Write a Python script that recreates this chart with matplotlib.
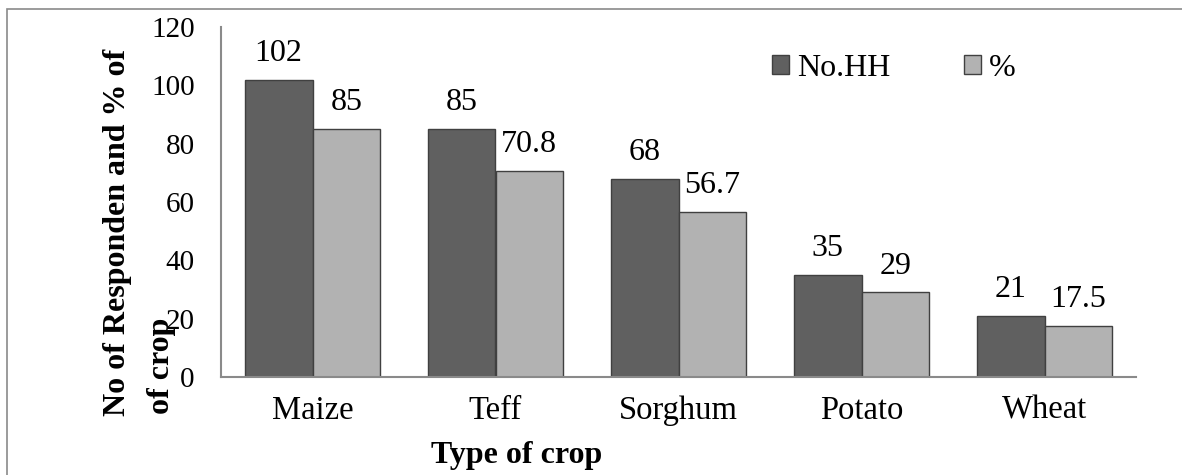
import matplotlib.pyplot as plt
import matplotlib.patches as mpatches
import numpy as np

# Data
crops = ["Maize", "Teff", "Sorghum", "Potato", "Wheat"]
no_hh = [102, 85, 68, 35, 21]
pct = [85, 70.8, 56.7, 29, 17.5]
pct_labels = ["85", "70.8", "56.7", "29", "17.5"]
yticks = [0, 20, 40, 60, 80, 100, 120]

plt.rcParams['font.family'] = ['Liberation Serif', 'DejaVu Serif']

dark = '#606060'
light = '#b2b2b2'
edge = '#404040'
axis_grey = '#8a8a8a'

fig = plt.figure(figsize=(11.82, 4.75), dpi=100)
ax = fig.add_axes([221 / 1182, 1 - 377 / 475, (1136 - 221) / 1182, (377 - 27) / 475])

x = np.arange(len(crops))
w = 0.37
b1 = ax.bar(x - w / 2, no_hh, w, color=dark, edgecolor=edge, linewidth=1, label='No.HH')
b2 = ax.bar(x + w / 2, pct, w, color=light, edgecolor=edge, linewidth=1, label='%')

# value labels above the bars
for rect, v in zip(b1, no_hh):
    ax.annotate(str(v), (rect.get_x() + rect.get_width() / 2, rect.get_height()),
                xytext=(0, 13.5), textcoords='offset points',
                ha='center', va='baseline', fontsize=23)
for rect, s in zip(b2, pct_labels):
    ax.annotate(s, (rect.get_x() + rect.get_width() / 2, rect.get_height()),
                xytext=(0, 13.5), textcoords='offset points',
                ha='center', va='baseline', fontsize=23)

ax.set_xlim(-0.5, len(crops) - 0.5)
ax.set_ylim(0, 120)
ax.set_yticks(yticks)
ax.set_xticks(x)
ax.set_xticklabels(crops)
ax.tick_params(axis='y', length=0, pad=19, labelsize=21)
ax.tick_params(axis='x', length=0, pad=13, labelsize=23.5)

for side in ['top', 'right']:
    ax.spines[side].set_visible(False)
for side in ['left', 'bottom']:
    ax.spines[side].set_color(axis_grey)
    ax.spines[side].set_linewidth(1.5)

# axis titles (placed like the Excel original, two wrapped lines)
fig.text(118 / 1182, 1 - 416 / 475, "No of Responden and % of",
         rotation=90, ha='center', va='bottom', fontsize=23, fontweight='bold')
fig.text(161 / 1182, 1 - 414 / 475, "of crop",
         rotation=90, ha='center', va='bottom', fontsize=23, fontweight='bold')
fig.text(517 / 1182, 1 - 463 / 475, "Type of crop", ha='center', va='baseline',
         fontsize=23, fontweight='bold')

# legend
handles = [mpatches.Patch(facecolor=dark, edgecolor=edge, label='No.HH'),
           mpatches.Patch(facecolor=light, edgecolor=edge, label='%')]
fig.legend(handles=handles, loc='center left', bbox_to_anchor=(772 / 1182, 1 - 68 / 475),
           bbox_transform=fig.transFigure, ncol=2, frameon=False, fontsize=23,
           handlelength=0.54, handleheight=0.54, handletextpad=0.25,
           columnspacing=2.3, borderpad=0, borderaxespad=0)

# outer chart border
fig.patches.append(mpatches.Rectangle((7 / 1182, -0.1), 1.2, 1 - 9 / 475 + 0.1,
                                      transform=fig.transFigure, fill=False,
                                      edgecolor=axis_grey, linewidth=1.2))

fig.savefig('out.png', dpi=100)
